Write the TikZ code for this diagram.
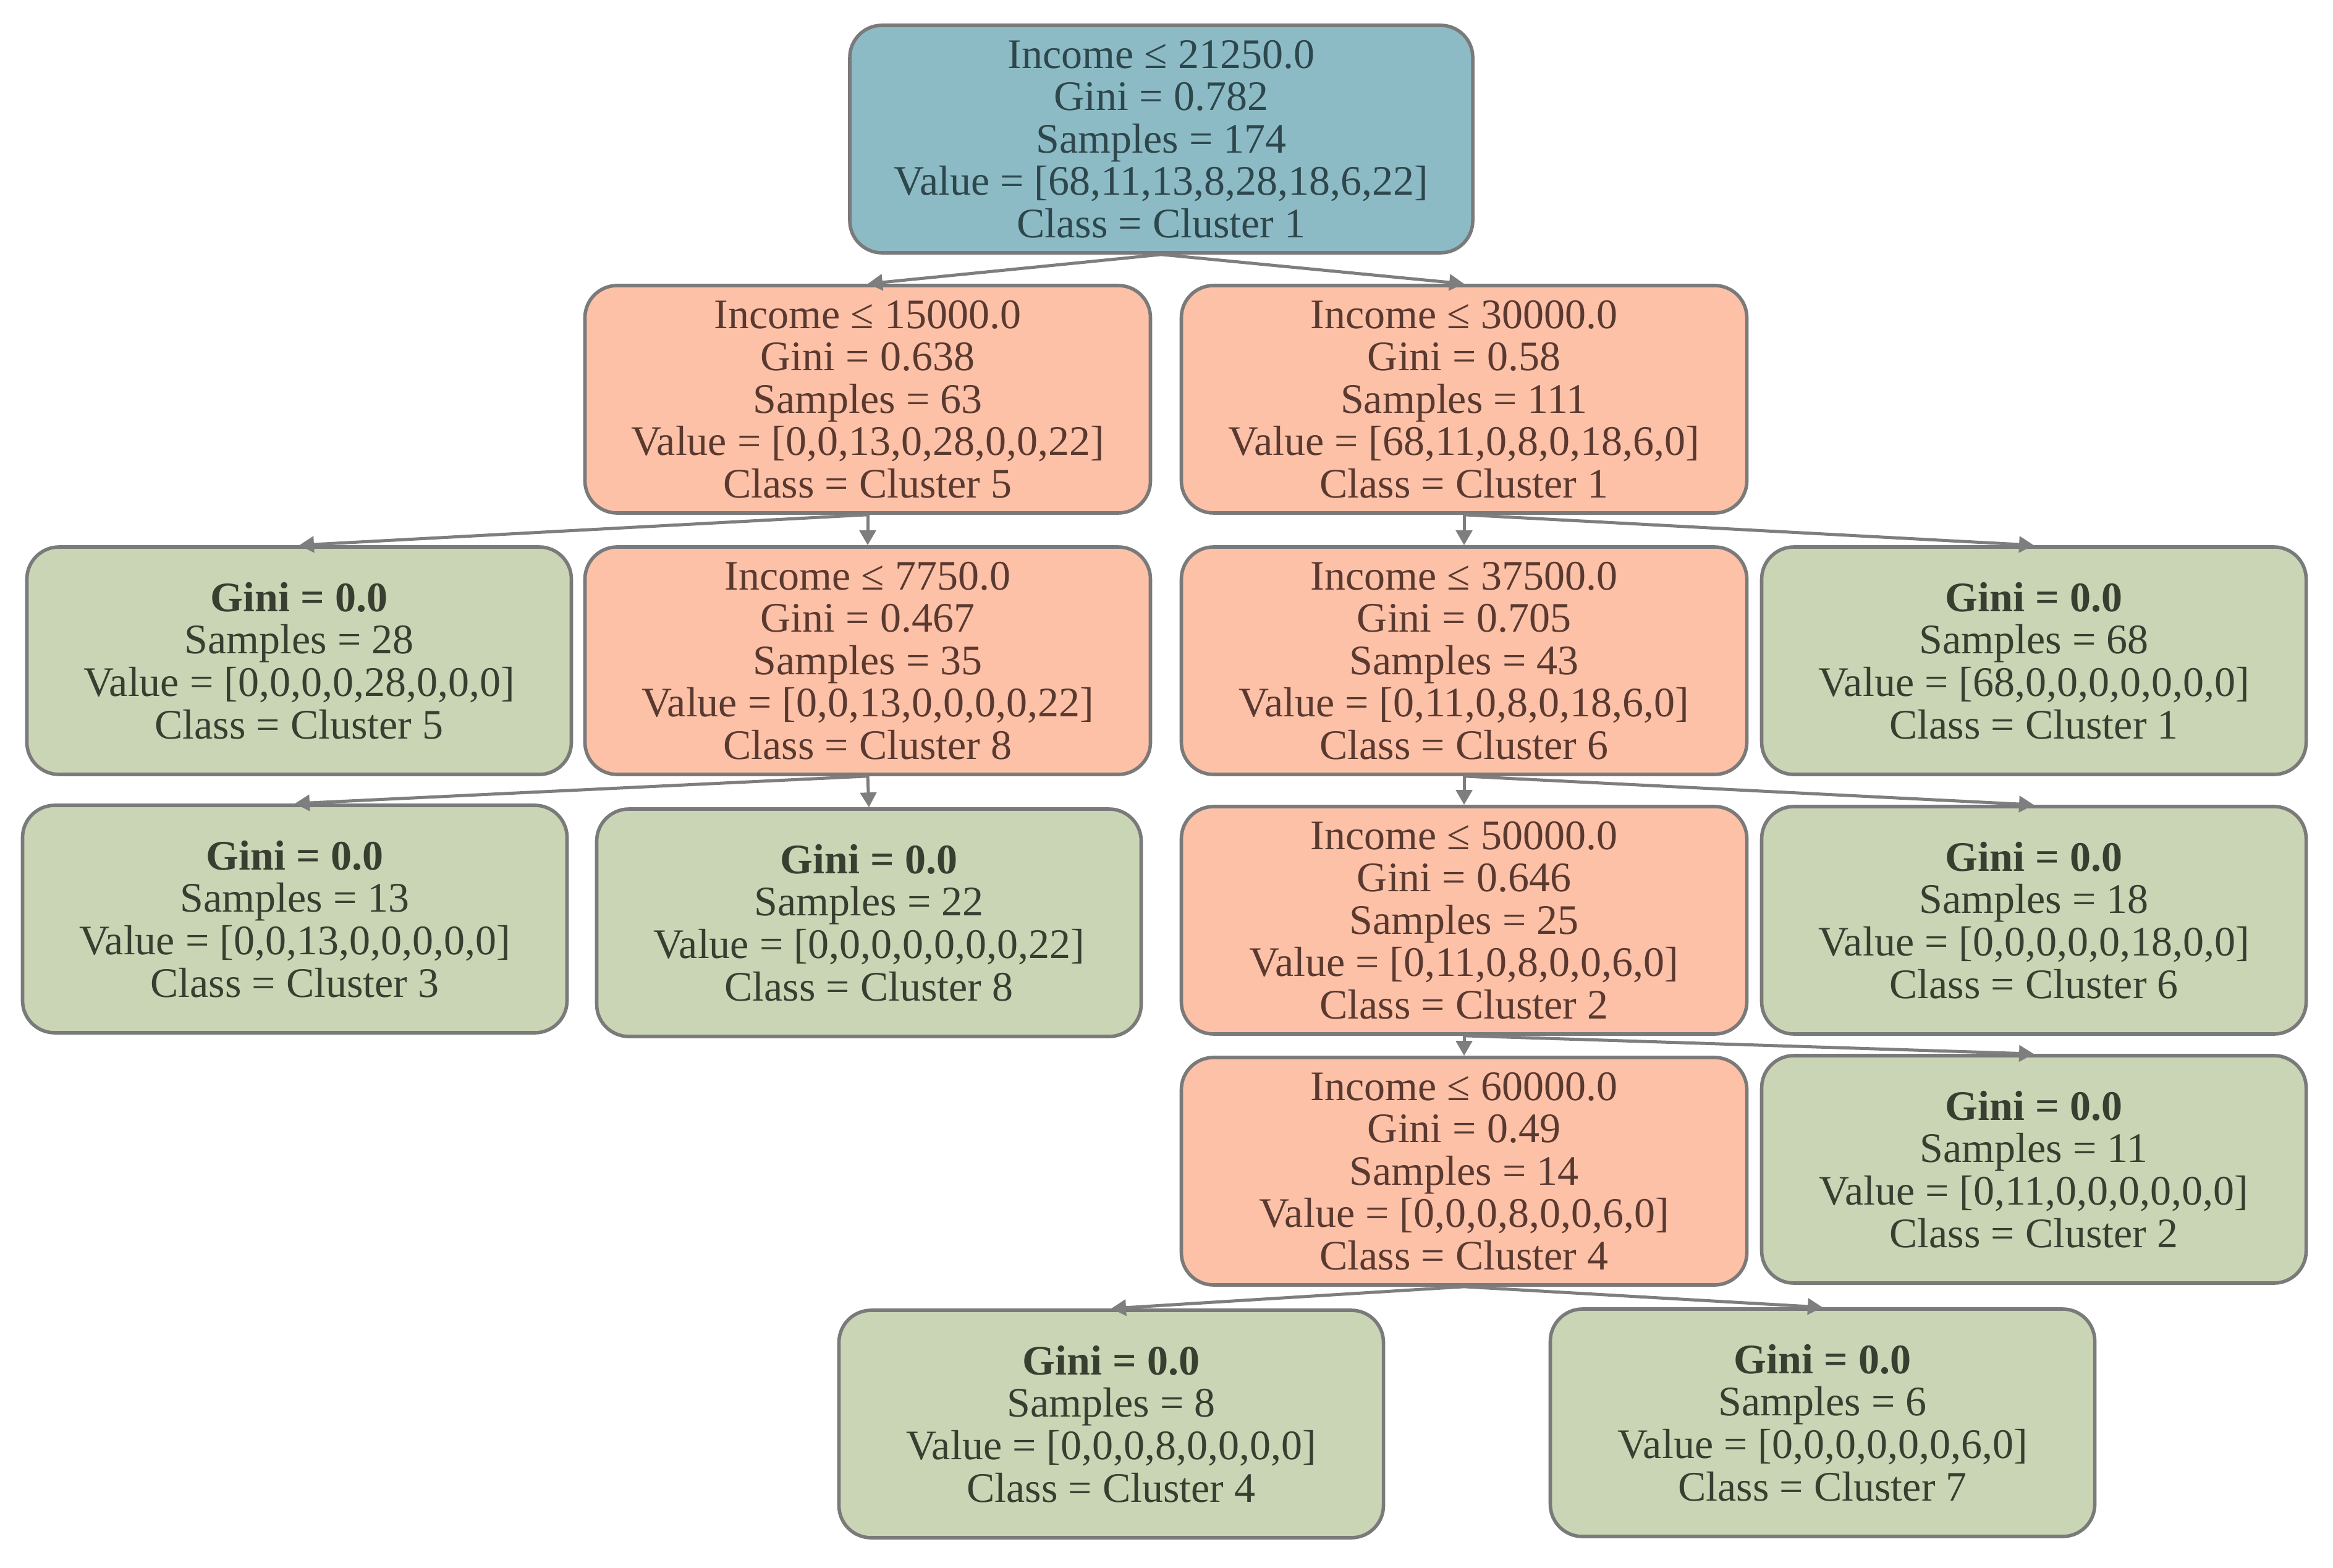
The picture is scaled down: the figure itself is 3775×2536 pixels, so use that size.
\documentclass[tikz,border=0pt]{standalone}
\usepackage{fontspec}
\setmainfont{Liberation Serif}
\usetikzlibrary{arrows.meta}
\definecolor{bluefill}{HTML}{8DBBC5}
\definecolor{orangefill}{HTML}{FDC1A8}
\definecolor{greenfill}{HTML}{C9D5B5}
\definecolor{bordergray}{HTML}{7A7A7A}
\definecolor{edgegray}{HTML}{7E7E7E}
\definecolor{bluetext}{HTML}{2E474C}
\definecolor{orangetext}{HTML}{5A3A30}
\definecolor{greentext}{HTML}{383E30}
\begin{document}
\begin{tikzpicture}[x=0.25bp,y=-0.25bp,
  box/.style={draw=bordergray, line width=1.4bp, rounded corners=13bp,
    minimum height=92bp, align=center, inner sep=0pt,
    font=\fontsize{17bp}{17.15bp}\selectfont},
  bluebox/.style={box, fill=bluefill, text=bluetext, minimum width=252bp},
  splitbox/.style={box, fill=orangefill, text=orangetext, minimum width=228.75bp},
  leafbox/.style={box, fill=greenfill, text=greentext, minimum width=220.25bp},
  edge/.style={draw=edgegray, line width=1.25bp, -{Triangle[length=6bp,width=6.5bp]}}
]
\useasboundingbox (0,0) rectangle (3775,2536);

\node[bluebox] (root) at (1879,225) {Income ≤ 21250.0\\Gini = 0.782\\Samples = 174\\Value = [68,11,13,8,28,18,6,22]\\Class = Cluster 1};

\node[splitbox] (n1) at (1404,646) {Income ≤ 15000.0\\Gini = 0.638\\Samples = 63\\Value = [0,0,13,0,28,0,0,22]\\Class = Cluster 5};
\node[splitbox] (n2) at (2369,646) {Income ≤ 30000.0\\Gini = 0.58\\Samples = 111\\Value = [68,11,0,8,0,18,6,0]\\Class = Cluster 1};

\node[leafbox] (l28) at (484,1069) {\textbf{Gini = 0.0}\\Samples = 28\\Value = [0,0,0,0,28,0,0,0]\\Class = Cluster 5};
\node[splitbox] (n3) at (1404,1069) {Income ≤ 7750.0\\Gini = 0.467\\Samples = 35\\Value = [0,0,13,0,0,0,0,22]\\Class = Cluster 8};
\node[splitbox] (n4) at (2369,1069) {Income ≤ 37500.0\\Gini = 0.705\\Samples = 43\\Value = [0,11,0,8,0,18,6,0]\\Class = Cluster 6};
\node[leafbox] (l68) at (3291,1069) {\textbf{Gini = 0.0}\\Samples = 68\\Value = [68,0,0,0,0,0,0,0]\\Class = Cluster 1};

\node[leafbox] (l13) at (477,1487) {\textbf{Gini = 0.0}\\Samples = 13\\Value = [0,0,13,0,0,0,0,0]\\Class = Cluster 3};
\node[leafbox] (l22) at (1406,1493) {\textbf{Gini = 0.0}\\Samples = 22\\Value = [0,0,0,0,0,0,0,22]\\Class = Cluster 8};
\node[splitbox] (n5) at (2369,1489) {Income ≤ 50000.0\\Gini = 0.646\\Samples = 25\\Value = [0,11,0,8,0,0,6,0]\\Class = Cluster 2};
\node[leafbox] (l18) at (3291,1489) {\textbf{Gini = 0.0}\\Samples = 18\\Value = [0,0,0,0,0,18,0,0]\\Class = Cluster 6};

\node[splitbox] (n6) at (2369,1895) {Income ≤ 60000.0\\Gini = 0.49\\Samples = 14\\Value = [0,0,0,8,0,0,6,0]\\Class = Cluster 4};
\node[leafbox] (l11) at (3291,1892) {\textbf{Gini = 0.0}\\Samples = 11\\Value = [0,11,0,0,0,0,0,0]\\Class = Cluster 2};

\node[leafbox] (l8) at (1798,2304) {\textbf{Gini = 0.0}\\Samples = 8\\Value = [0,0,0,8,0,0,0,0]\\Class = Cluster 4};
\node[leafbox] (l6) at (2949,2302) {\textbf{Gini = 0.0}\\Samples = 6\\Value = [0,0,0,0,0,0,6,0]\\Class = Cluster 7};

\draw[edge] (root.south) -- (n1.north);
\draw[edge] (root.south) -- (n2.north);
\draw[edge] (n1.south) -- (l28.north);
\draw[edge] (n1.south) -- (n3.north);
\draw[edge] (n2.south) -- (n4.north);
\draw[edge] (n2.south) -- (l68.north);
\draw[edge] (n3.south) -- (l13.north);
\draw[edge] (n3.south) -- (l22.north);
\draw[edge] (n4.south) -- (n5.north);
\draw[edge] (n4.south) -- (l18.north);
\draw[edge] (n5.south) -- (n6.north);
\draw[edge] (n5.south) -- (l11.north);
\draw[edge] (n6.south) -- (l8.north);
\draw[edge] (n6.south) -- (l6.north);
\end{tikzpicture}
\end{document}
